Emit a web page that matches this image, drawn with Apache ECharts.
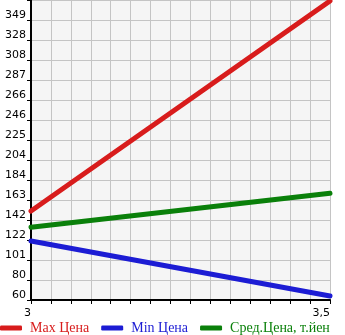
<!DOCTYPE html>
<html><head><meta charset="utf-8">
<script src="https://cdn.jsdelivr.net/npm/echarts@6/dist/echarts.min.js"></script>
<style>html,body{margin:0;padding:0;background:#fff}#c{width:345px;height:335px}</style>
</head><body><div id="c"></div>
<script>
const xTickLabels = ['3','','','','','','','','','','','','','','','3,5'];
const yTickLabels = ['60','80','101','122','142','163','184','204','225','246','266','287','308','328','349',''];
const xMin = 3, xMax = 3.5;
const yMin = 60, yMax = 369.6;
const seriesNames = ['Max Цена','Min Цена','Сред.Цена, т.йен'];
const xValues = [3, 3.5];
const maxPrice = [151.8, 368.6];
const minPrice = [120.9, 64.1];
const avgPrice = [135.0, 170.1];
const colors = ['#d81c1c','#1c1cd4','#0a800a'];

const chart = echarts.init(document.getElementById('c'));
const mk = (name, vals, color) => ({
  name, type:'line', xAxisIndex:1, yAxisIndex:1, symbol:'none',
  data: xValues.map((x,i)=>[x, vals[i]]),
  lineStyle:{color, width:5, cap:'round'}, itemStyle:{color}
});
chart.setOption({
  animation:false,
  grid:{left:31, right:15, top:0, bottom:35, show:true, backgroundColor:'#f5f5f5', borderWidth:0},
  legend:{
    left:0, top:321, itemWidth:22, itemHeight:5, itemGap:12, icon:'roundRect', padding:0,
    data: seriesNames.map((n,i)=>({name:n, textStyle:{color:colors[i]}})),
    textStyle:{fontFamily:'Liberation Serif', fontSize:14, padding:[0,0,0,3]}
  },
  xAxis:[
    {type:'category', data:xTickLabels, boundaryGap:false, position:'bottom',
     axisLine:{lineStyle:{color:'#000', width:2}},
     axisTick:{show:true, interval:0, length:4, lineStyle:{color:'#000'}},
     axisLabel:{interval:0, color:'#000', fontFamily:'DejaVu Sans', fontSize:11, align:'right', margin:8},
     splitLine:{show:true, interval:0, lineStyle:{color:'#c4c4c4', width:1}}},
    {type:'value', min:xMin, max:xMax, show:false}
  ],
  yAxis:[
    {type:'category', data:yTickLabels, boundaryGap:false,
     axisLine:{lineStyle:{color:'#000', width:2}},
     axisTick:{show:true, interval:0, length:4, lineStyle:{color:'#000'}},
     axisLabel:{interval:0, color:'#000', fontFamily:'DejaVu Sans', fontSize:11, margin:5, verticalAlign:'bottom', lineHeight:10},
     splitLine:{show:true, interval:0, lineStyle:{color:'#c4c4c4', width:1}}},
    {type:'value', min:yMin, max:yMax, show:false}
  ],
  series:[
    mk(seriesNames[0], maxPrice, colors[0]),
    mk(seriesNames[1], minPrice, colors[1]),
    mk(seriesNames[2], avgPrice, colors[2])
  ]
});
</script></body></html>
